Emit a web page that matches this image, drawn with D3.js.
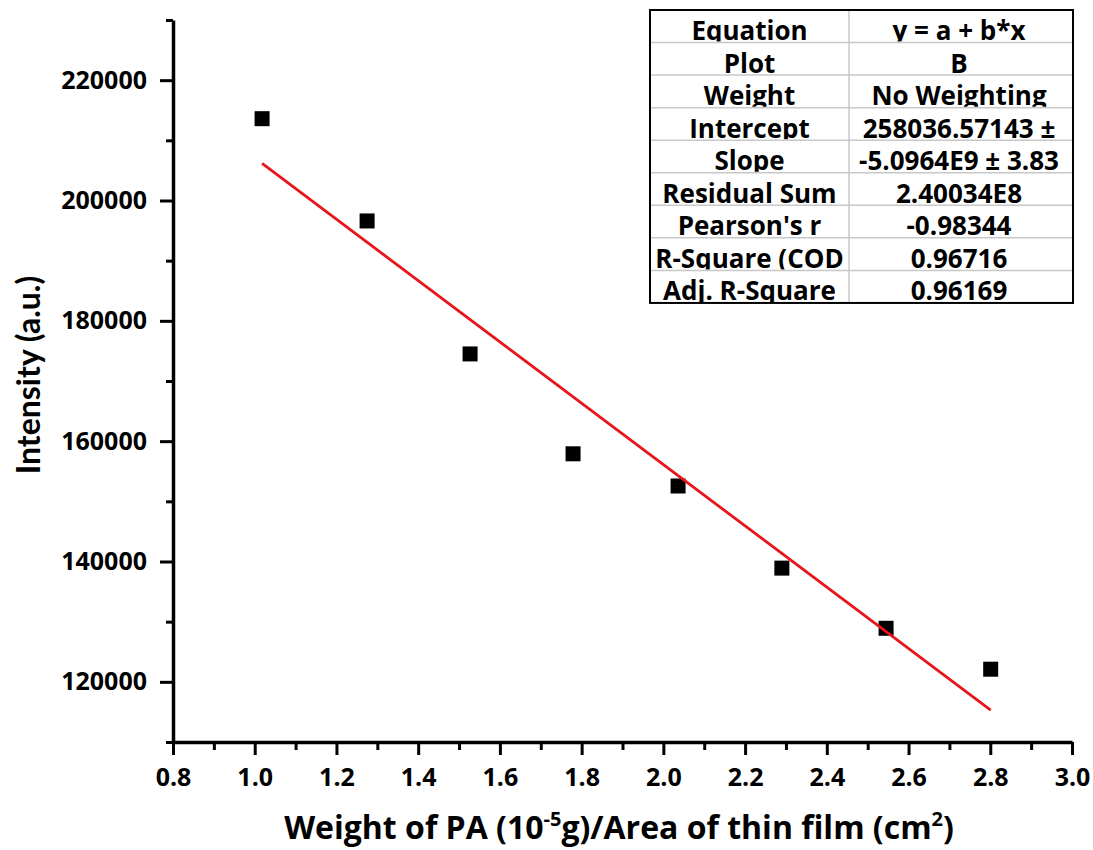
<!DOCTYPE html>
<html>
<head>
<meta charset="utf-8">
<script src="https://cdn.jsdelivr.net/npm/d3@7"></script>
<style>
  html, body { margin: 0; padding: 0; background: #fff; }
  svg { display: block; }
  text { font-family: "Open Sans", Lato, sans-serif; font-weight: 700; fill: #000; }
</style>
</head>
<body>
<svg id="chart" width="1093" height="850"></svg>
<script>
// Measured intensity vs. PA loading per film area
const xValues = [1.018, 1.275, 1.527, 1.779, 2.036, 2.290, 2.545, 2.801];
const yValues = [213600, 196600, 174500, 157900, 152550, 138900, 128900, 122100];

// Linear fit results (x in 1e-5 g/cm^2)
const fitIntercept = 258036.57143;
const fitSlope = -5.0964e9;
const xUnit = 1e-5;

// Axis ticks
const xMajorTicks = [0.8, 1.0, 1.2, 1.4, 1.6, 1.8, 2.0, 2.2, 2.4, 2.6, 2.8, 3.0];
const xMinorTicks = [0.9, 1.1, 1.3, 1.5, 1.7, 1.9, 2.1, 2.3, 2.5, 2.7, 2.9];
const yMajorTicks = [120000, 140000, 160000, 180000, 200000, 220000];
const yMinorTicks = [110000, 130000, 150000, 170000, 190000, 210000, 230000];

// Fit summary table
const tableLabels = ["Equation", "Plot", "Weight", "Intercept", "Slope", "Residual Sum", "Pearson's r", "R-Square (COD", "Adj. R-Square"];
const tableValues = ["y = a + b*x", "B", "No Weighting", "258036.57143 \u00b1", "-5.0964E9 \u00b1 3.83", "2.40034E8", "-0.98344", "0.96716", "0.96169"];

const svg = d3.select("#chart");
svg.append("rect").attr("width", 1093).attr("height", 850).attr("fill", "#fff");

const plotLeft = 173, plotRight = 1072, plotTop = 20, plotBottom = 742;
const x = d3.scaleLinear().domain([0.8, 3.0]).range([plotLeft, plotRight]);
const y = d3.scaleLinear().domain([110000, 230000]).range([plotBottom, plotTop]);

// Minor ticks
svg.append("g").attr("transform", `translate(0,${plotBottom})`)
  .call(d3.axisBottom(x).tickValues(xMinorTicks).tickSize(8).tickSizeOuter(0).tickFormat(""))
  .call(g => g.select(".domain").remove())
  .call(g => g.selectAll("line").attr("stroke", "#000").attr("stroke-width", 3));
svg.append("g").attr("transform", `translate(${plotLeft},0)`)
  .call(d3.axisLeft(y).tickValues(yMinorTicks).tickSize(7).tickSizeOuter(0).tickFormat(""))
  .call(g => g.select(".domain").remove())
  .call(g => g.selectAll("line").attr("stroke", "#000").attr("stroke-width", 3));

// Major ticks and labels
const xAxis = svg.append("g").attr("transform", `translate(0,${plotBottom})`)
  .call(d3.axisBottom(x).tickValues(xMajorTicks).tickSize(13).tickSizeOuter(0).tickPadding(13)
    .tickFormat(d3.format(".1f")));
const yAxis = svg.append("g").attr("transform", `translate(${plotLeft},0)`)
  .call(d3.axisLeft(y).tickValues(yMajorTicks).tickSize(13).tickSizeOuter(0).tickPadding(13)
    .tickFormat(d3.format("d")));

[xAxis, yAxis].forEach(g => {
  g.select(".domain").attr("stroke", "#000").attr("stroke-width", 3.5);
  g.selectAll(".tick line").attr("stroke", "#000").attr("stroke-width", 3);
  g.selectAll(".tick text").attr("font-weight", 700)
    .attr("font-size", 25).attr("fill", "#000");
});

// Axis titles
const xTitle = svg.append("text")
  .attr("x", 619).attr("y", 839).attr("text-anchor", "middle").attr("font-size", 32);
xTitle.append("tspan").text("Weight of PA (10");
xTitle.append("tspan").attr("font-size", 20).attr("dy", -13).text("-5");
xTitle.append("tspan").attr("dy", 13).text("g)/Area of thin film (cm");
xTitle.append("tspan").attr("font-size", 20).attr("dy", -13).text("2");
xTitle.append("tspan").attr("dy", 13).text(")");

svg.append("text")
  .attr("transform", "translate(40,375) rotate(-90)")
  .attr("text-anchor", "middle").attr("font-size", 32)
  .style("font-family", "Lato, sans-serif")
  .text("Intensity (a.u.)");

// Data points
const sq = 15;
svg.append("g").selectAll("rect").data(xValues).join("rect")
  .attr("x", (d) => x(d) - sq / 2)
  .attr("y", (d, i) => y(yValues[i]) - sq / 2)
  .attr("width", sq).attr("height", sq).attr("fill", "#000");

// Fitted line over the data range
const fitX = d3.extent(xValues);
const fitY = v => fitIntercept + fitSlope * xUnit * v;
svg.append("path")
  .datum(fitX)
  .attr("d", d3.line().x(d => x(d)).y(d => y(fitY(d))))
  .attr("stroke", "#e8141b").attr("stroke-width", 2.8).attr("fill", "none");

// Fit summary table
const tX0 = 650, tX1 = 849, tX2 = 1073, tY0 = 10, rowH = 32.55;
const table = svg.append("g");
const defs = svg.append("defs");
tableLabels.forEach((lab, i) => {
  const ry = tY0 + i * rowH;
  defs.append("clipPath").attr("id", "row" + i)
    .append("rect").attr("x", tX0).attr("y", ry).attr("width", tX2 - tX0).attr("height", rowH - 1);
  const rowG = table.append("g").attr("clip-path", `url(#row${i})`);
  rowG.append("text").attr("x", (tX0 + tX1) / 2).attr("y", ry + rowH - 2.5)
    .attr("text-anchor", "middle").attr("font-size", 26).text(lab);
  rowG.append("text").attr("x", (tX1 + tX2) / 2 - 2).attr("y", ry + rowH - 2.5)
    .attr("text-anchor", "middle").attr("font-size", 26).text(tableValues[i]);
  if (i > 0) {
    table.append("line").attr("x1", tX0).attr("x2", tX2).attr("y1", ry).attr("y2", ry)
      .attr("stroke", "#c8c8c8").attr("stroke-width", 1.5);
  }
});
table.append("line").attr("x1", tX1).attr("x2", tX1).attr("y1", tY0).attr("y2", tY0 + 9 * rowH)
  .attr("stroke", "#c8c8c8").attr("stroke-width", 1.5);
table.append("rect").attr("x", tX0).attr("y", tY0).attr("width", tX2 - tX0).attr("height", 9 * rowH)
  .attr("fill", "none").attr("stroke", "#000").attr("stroke-width", 2);
</script>
</body>
</html>
